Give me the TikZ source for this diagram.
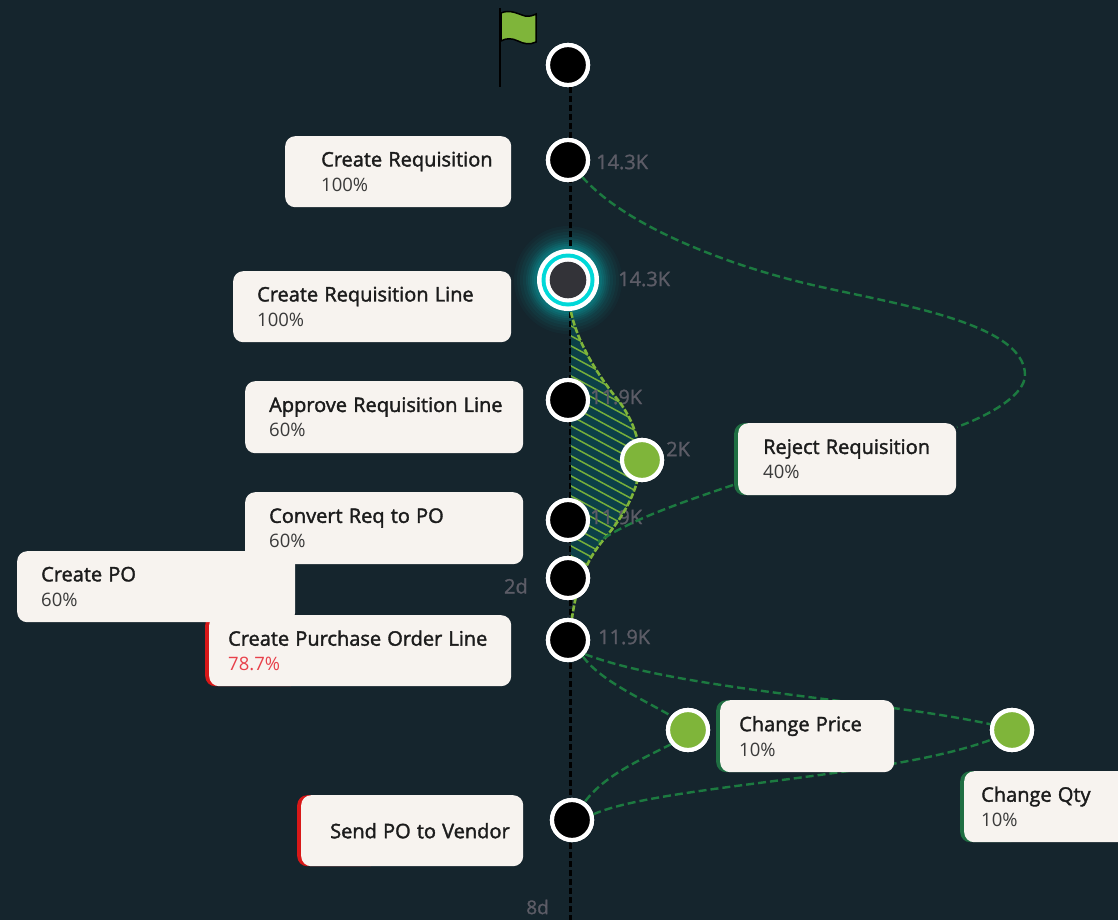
\documentclass[tikz,border=0pt]{standalone}
\usepackage{fontspec}
\setmainfont{Open Sans}
\newfontfamily\titlefont[FakeBold=1.8]{Open Sans}
\newfontfamily\statfont[FakeBold=1.2]{Open Sans}
\usetikzlibrary{calc}
\definecolor{bgc}{HTML}{15252D}
\definecolor{cardc}{HTML}{F7F3EF}
\definecolor{leaf}{HTML}{7FB53A}
\definecolor{edgeg}{HTML}{1C7A40}
\definecolor{barg}{HTML}{1F6E42}
\definecolor{barr}{HTML}{D81818}
\definecolor{redt}{HTML}{E8404A}
\definecolor{greyt}{HTML}{5C5C66}
\definecolor{hatchbg}{HTML}{0C4048}
\definecolor{titlec}{HTML}{1C1C1C}
\definecolor{subc}{HTML}{3A3A3A}
\definecolor{hlc}{HTML}{00D8D8}
\definecolor{hlcore}{HTML}{333338}
\tikzset{
  x=1pt,y=-1pt,
  cardbox/.style={fill=cardc,rounded corners=10pt,inner sep=0pt,anchor=north west,align=left,text=titlec,font=\fontsize{18.5}{25}\selectfont},
  barbox/.style={rounded corners=10pt,inner sep=0pt,anchor=north west},
  pt/.style={circle,draw=white,line width=4.2pt,fill=black,minimum size=40pt,inner sep=0pt},
  gpt/.style={pt,fill=leaf},
  stat/.style={text=greyt,font=\fontsize{20}{20}\selectfont\statfont,inner sep=0pt,anchor=west},
  edgeln/.style={draw=edgeg,line width=2.4pt,dash pattern=on 8pt off 4pt},
  spine/.style={draw=black,line width=3pt,dash pattern=on 6pt off 3pt},
}
% name, x1, y1, x2, y2, pad, title, second line
\newcommand{\pcard}[8]{%
  \pgfmathsetlengthmacro{\cw}{#4-#2}\pgfmathsetlengthmacro{\ch}{#5-#3}%
  \node[cardbox,minimum height=\ch,text width=\cw] (#1) at (#2,#3)
    {\hspace*{#6pt}{\fontsize{20}{25}\selectfont\titlefont #7}\\\hspace*{#6pt}{\color{subc}#8}};}
\newcommand{\pbar}[6]{%
  \pgfmathsetlengthmacro{\cw}{#5-#3}\pgfmathsetlengthmacro{\ch}{#6-#4}%
  \node[barbox,fill=#1,minimum height=\ch,minimum width=\cw] (#2) at (#3,#4) {};}
\begin{document}
\begin{tikzpicture}
\clip (0,0) rectangle (1118,920);
\fill[bgc] (0,0) rectangle (1118,920);
\useasboundingbox (0,0) rectangle (1118,920);
% glow
\foreach \r/\m in {54/3,51/6,48/10,45/14,42/19,40/24,38/30,36/36,34/42,31/50}{
  \fill[hlc!\m!bgc] (568,280) circle[radius=\r];
}
% named points
\node[pt] (start) at (568,65) {};
\node[pt] (req) at (568,160) {};
\node[pt,draw=none,fill=none,minimum size=62pt] (reqline) at (568,280) {};
\node[pt] (appr) at (568,400) {};
\node[pt] (conv) at (568,520) {};
\node[pt] (cpo) at (568,578) {};
\node[pt] (pol) at (568,640) {};
\node[pt] (send) at (572,820) {};
\node[gpt] (g1) at (642,460) {};
\node[gpt] (g2) at (688,730) {};
\node[gpt] (g3) at (1012,730) {};
% spine
\coordinate (spinetop) at (570,87);
\coordinate (spineend) at (570,920);
\draw[spine] (spinetop) -- (spineend);
% hatched area
\begin{scope}
\clip (571,312) .. controls (578,345) and (600,378) .. (618,400)
  .. controls (632,418) and (640,440) .. (640,460)
  .. controls (640,490) and (622,518) .. (605,538)
  .. controls (592,553) and (583,568) .. (578,590) -- (571,590) -- cycle;
\fill[hatchbg] (560,300) rectangle (660,600);
\foreach \k in {0,10,...,380}{
  \draw[leaf!90!edgeg,line width=1.5pt] (560,{190+\k}) -- (660,{190+\k+54});
}
\end{scope}
% stats
\node[stat] (s1) at (596,162) {14.3K};
\node[stat] (s2) at (618,279) {14.3K};
\node[stat] (s3) at (590,397) {11.9K};
\node[stat] (s4) at (666,449) {2K};
\node[stat] (s5) at (590,517) {11.9K};
\node[stat] (s6) at (598,637) {11.9K};
\node[stat,anchor=east] (s7) at (528,586) {2d};
\node[stat,anchor=east,font=\fontsize{19}{19}\selectfont\statfont] (s8) at (549,907) {8d};
\coordinate (hA) at (571,312);
\coordinate (hB) at (572,618);
\draw[leaf,line width=2.6pt,dash pattern=on 6pt off 2pt] (hA) .. controls (578,345) and (600,378) .. (618,400)
  .. controls (632,418) and (640,440) .. (640,460)
  .. controls (640,490) and (622,518) .. (605,538)
  .. controls (592,553) and (578,575) .. (hB);
% edges
\coordinate (rejTop) at (957,427);
\coordinate (rejLeft) at (733,485);
\draw[edgeln] (req.-50) .. controls (625,225) and (720,262) .. (800,282)
  .. controls (880,302) and (1025,320) .. (1025,375)
  .. controls (1025,395) and (990,415) .. (rejTop);
\draw[edgeln] (rejLeft) .. controls (680,503) and (630,520) .. (598,542);
\draw[edgeln] (pol.-48) .. controls (600,680) and (640,698) .. (g2.140);
\draw[edgeln] (pol.-40) .. controls (680,690) and (880,700) .. (g3.165);
\draw[edgeln] (g2.-140) .. controls (640,760) and (605,775) .. (send.55);
\draw[edgeln] (send.15) .. controls (660,785) and (890,778) .. (g3.-155);
% redraw points on top
\node[pt] at (start) {};
\node[pt] at (req) {};
\fill[white] (reqline) circle[radius=31];
\fill[hlc] (reqline) circle[radius=26.5];
\fill[white] (reqline) circle[radius=22.5];
\fill[hlcore] (reqline) circle[radius=18.3];
\node[pt] at (appr) {};
\node[pt] at (conv) {};
\node[pt] at (cpo) {};
\node[pt] at (pol) {};
\node[pt] at (send) {};
\node[gpt] at (g1) {};
\node[gpt] at (g2) {};
\node[gpt] at (g3) {};
% flag
\coordinate (poleA) at (500,8);
\coordinate (poleB) at (500,87);
\draw[black,line width=2pt] (poleA) -- (poleB);
\draw[black,line width=1.5pt,fill=leaf] (501,13) .. controls (510,9) and (518,14) .. (525,16)
  .. controls (530,17) and (534,15) .. (536,14) -- (536,42)
  .. controls (530,45) and (524,44) .. (518,41)
  .. controls (512,38) and (506,38) .. (501,41) -- cycle;
% cards
\pcard{c1}{285}{136}{511}{207}{36}{Create Requisition}{100\%}
\pcard{c2}{233}{271}{511}{342}{24}{Create Requisition Line}{100\%}
\pcard{c3}{245}{381}{523}{453}{24}{Approve Requisition Line}{60\%}
\pbar{barr}{b5}{205}{615}{300}{686}
\pcard{c5}{209}{615}{511}{686}{19}{Create Purchase Order Line}{\textcolor{redt}{78.7\%}}
\pcard{c4b}{17}{551}{295}{622}{24}{Create PO}{60\%}
\pcard{c4}{245}{492}{523}{564}{24}{Convert Req to PO}{60\%}
\pbar{barr}{b6}{297}{795}{380}{866}
\node[cardbox,minimum height=71pt,text width=222pt] (c6) at (301,795) {\hspace*{29pt}{\fontsize{20}{25}\selectfont\titlefont Send PO to Vendor}};
\pbar{barg}{b7}{734}{423}{800}{495}
\pcard{c7}{738}{423}{956}{495}{25}{Reject Requisition}{40\%}
\pbar{barg}{b8}{716}{700}{780}{772}
\pcard{c8}{720}{700}{894}{772}{19}{Change Price}{10\%}
\pbar{barg}{b9}{960}{771}{1020}{842}
\pcard{c9}{964}{771}{1135}{842}{17}{Change Qty}{10\%}
\end{tikzpicture}
\end{document}
